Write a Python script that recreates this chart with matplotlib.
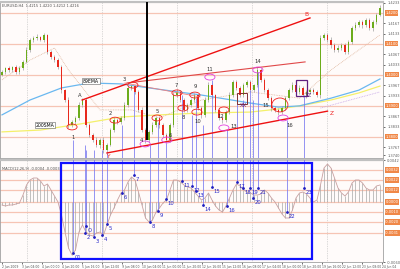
import matplotlib
matplotlib.use("Agg")
import matplotlib.pyplot as plt
from matplotlib.patches import Ellipse, Rectangle
import numpy as np

# price candles (EURUSD H4), one close per bar, open = previous close
closes = [1.4009, 1.4022, 1.4016, 1.4026, 1.4009, 1.4022, 1.4042, 1.4081, 1.4113, 1.4119,
          1.4122, 1.4113, 1.4129, 1.4074, 1.4058, 1.4048, 1.4026, 1.3951, 1.3919, 1.3838,
          1.3848, 1.3861, 1.3903, 1.3919, 1.3838, 1.3806, 1.3790, 1.3774, 1.3790, 1.3757,
          1.3774, 1.3822, 1.3854, 1.3848, 1.3861, 1.3903, 1.3958, 1.3964, 1.3945, 1.3887,
          1.3822, 1.3790, 1.3816, 1.3838, 1.3861, 1.3838, 1.3806, 1.3790, 1.3838, 1.3935,
          1.3945, 1.3919, 1.3887, 1.3903, 1.3919, 1.3935, 1.3893, 1.3871, 1.3919, 1.3967,
          1.3935, 1.3887, 1.3861, 1.3854, 1.3880, 1.3935, 1.3977, 1.3958, 1.3935, 1.3967,
          1.3977, 1.3951, 1.3967, 1.4016, 1.3984, 1.3951, 1.3925, 1.3893, 1.3887, 1.3880,
          1.3893, 1.3925, 1.3951, 1.3967, 1.3945, 1.3958, 1.3935, 1.3945, 1.3951, 1.3945,
          1.3935, 1.4119, 1.4129, 1.4113, 1.4097, 1.4081, 1.4087, 1.4097, 1.4074, 1.4106,
          1.4152, 1.4161, 1.4171, 1.4161, 1.4177, 1.4152, 1.4171, 1.4194, 1.4216]
first_open = 1.4000
# wick lengths in pips
wick_up = [6, 5, 8, 4, 6, 7, 5, 9, 6, 8, 10, 5, 7, 4, 6, 5, 8, 6, 5, 9,
           7, 6, 8, 5, 6, 7, 5, 9, 6, 8, 5, 7, 10, 6, 5, 8, 7, 6, 5, 6,
           8, 5, 7, 9, 6, 5, 8, 6, 7, 9, 8, 6, 5, 7, 6, 8, 5, 7, 9, 10,
           6, 5, 7, 6, 8, 9, 7, 6, 5, 8, 6, 7, 5, 10, 6, 5, 7, 6, 8, 5,
           7, 6, 8, 9, 7, 8, 6, 7, 8, 6, 5, 10, 7, 6, 8, 5, 9, 6, 7, 8,
           6, 9, 5, 7, 6, 8, 5, 7, 9]
wick_dn = [5, 7, 6, 8, 5, 6, 7, 5, 6, 8, 7, 5, 6, 8, 5, 7, 6, 9, 7, 10,
           6, 8, 5, 7, 6, 8, 7, 6, 9, 8, 6, 5, 7, 8, 6, 5, 7, 6, 8, 7,
           6, 9, 8, 7, 6, 8, 7, 9, 6, 7, 5, 8, 6, 7, 8, 5, 6, 9, 7, 6,
           8, 7, 6, 9, 7, 6, 5, 8, 7, 6, 5, 7, 6, 5, 8, 7, 6, 9, 8, 10,
           7, 6, 5, 7, 8, 6, 7, 9, 8, 6, 7, 8, 6, 7, 9, 8, 7, 6, 8, 7,
           6, 7, 5, 8, 6, 7, 9, 6, 5]

# MACD histogram (units of 0.0001)
macd = [-3, -4, -3, -3, -2, -1, 7, 17, 22, 24, 24, 21, 16, 18, 12, 6, 0, -13, -30, -46,
        -53, -48, -30, -23, -30, -33, -34, -31, -30, -33, -23, -13, -6, 2, 9, 12, 20, 25, 22, 10,
        -3, -16, -20, -18, -10, -6, -1, 2, 12, 22, 22, 20, 17, 15, 14, 10, 6, 2, 4, 9,
        2, -4, -8, -10, -4, 4, 12, 18, 16, 12, 10, 9, 7, 7, 8, 12, 9, 4, 0, -6,
        -12, -16, -16, -8, 4, 9, 10, 8, 4, 0, 2, 17, 34, 38, 34, 24, 14, 9, 6, 10,
        19, 22, 22, 19, 14, 12, 12, 16, 17]

# moving averages (bar index, price)
ema_idx = [0, 8, 17, 25, 34, 42, 57, 71, 79, 85, 94, 102, 108]
ema89 = [1.3871, 1.3919, 1.3958, 1.3974, 1.3971, 1.3958, 1.3935, 1.3909, 1.3896, 1.3900, 1.3925, 1.3951, 1.3987]
sma_idx = [0, 11, 22, 34, 45, 57, 71, 79, 85, 94, 102, 108]
sma200 = [1.3816, 1.3822, 1.3841, 1.3864, 1.3871, 1.3877, 1.3880, 1.3890, 1.3900, 1.3919, 1.3942, 1.3964]
fast_idx = [0, 8, 15, 19, 28, 37, 45, 57, 71, 85, 94, 102, 108]
fast_ma = [1.3984, 1.4048, 1.4087, 1.4016, 1.3887, 1.3887, 1.3861, 1.3919, 1.3945, 1.3925, 1.4016, 1.4081, 1.4129]
slow_idx = [91, 108]
slow_ma = [1.3893, 1.3945]

# trend lines ((idx0, price0), (idx1, price1), colour, width)
trend_lines = [((30, 1.3748), (93, 1.3883), "#ee1111", 1.0),
               ((22.9, 1.3919), (88, 1.4184), "#ee1111", 1.0),
               ((35.7, 1.3974), (86.6, 1.4042), "#e04848", 0.8),
               ((35.1, 1.3974), (56.6, 1.3929), "#f08080", 0.6)]

# circled swing points
circle_idx = [20, 32.3, 37.4, 40.9, 44.3, 47.1, 50, 51.7, 55.1, 55.7, 59.4, 63.4, 63.4, 73.1, 79.4, 80.3]
circle_px = [1.3832, 1.3854, 1.3967, 1.3777, 1.3861, 1.3790, 1.3942, 1.3893, 1.3935, 1.3880,
             1.3993, 1.3887, 1.3829, 1.4016, 1.3903, 1.3861]
circle_col = ["r", "r", "r", "m", "r", "m", "r", "r", "r", "r", "m", "r", "m", "m", "r", "m"]

# point labels on price panel
label_txt = ["1", "A", "2", "3", "4", "5", "6", "7", "8", "9", "10", "11", "12", "13",
             "XX", "14", "15", "16", "ZZ"]
label_idx = [20.3, 22.3, 30.9, 34.9, 39.7, 44.3, 48, 49.7, 51.7, 55.1, 56, 59.4, 62.6, 66.3,
             68.9, 73.1, 75.4, 82.3, 87.6]
label_px = [1.3799, 1.3932, 1.3877, 1.3984, 1.3787, 1.3883, 1.3803, 1.3967, 1.3864, 1.3961,
            1.3848, 1.4019, 1.3867, 1.3832, 1.3900, 1.4042, 1.3900, 1.3838, 1.3932]
red_txt = ["B", "Z", "Y"]
red_idx = [87.1, 94.3, 30.3]
red_px = [1.4194, 1.3874, 1.3737]

# links from price events to MACD points
link_txt = ["01", "2", "O", "3", "4", "5", "6", "7", "8", "9", "10", "11", "12", "13",
            "14", "15", "16", "17", "18", "19", "20", "21", "22", "23"]
link_idx = [20.3, 23.7, 24, 26.3, 28.6, 30, 34.3, 37.7, 42.3, 44.6, 46.9, 51.4, 54.3, 55.4,
            57.4, 60, 64.3, 67.1, 68.9, 70.9, 71.7, 73.1, 81.4, 86.3]
link_top = [1.3790, 1.3774, 1.3757, 1.3757, 1.3757, 1.3751, 1.3838, 1.3951, 1.3774, 1.3848,
            1.3780, 1.3935, 1.3871, 1.3925, 1.3838, 1.3984, 1.3822, 1.3919, 1.3919, 1.3951,
            1.3919, 1.4009, 1.3854, 1.3935]
link_macd = [-51, -31, -24, -35, -33, -22, 9, 27, -20, -9, 3, 21, 16, 11, -3, 15, -4, 20,
             14, 14, 4, 14, -10, 14]

price_levels = [1.4200, 1.4100, 1.4000, 1.3900, 1.3800]
price_ticks = [1.4233, 1.4167, 1.4133, 1.4067, 1.4033, 1.3967, 1.3933, 1.3867, 1.3833,
               1.3767, 1.3740]
macd_levels = [32, 22, 12, 0, -10, -20, -31]
day_lines = [7.1, 28.6, 50, 71.4, 92.9]
date_labels = ["2 Jun 2009", "3 Jun 04:00", "4 Jun 00:00", "4 Jun 20:00", "5 Jun 16:00",
               "8 Jun 12:00", "9 Jun 08:00", "10 Jun 04:00", "11 Jun 00:00", "11 Jun 20:00",
               "12 Jun 16:00", "15 Jun 12:00", "16 Jun 08:00", "17 Jun 04:00", "18 Jun 00:00",
               "18 Jun 20:00", "19 Jun 16:00", "22 Jun 12:00", "23 Jun 08:00", "24 Jun 04"]

bg = "#fffbfa"
grid_col = "#f6c4b4"
fig = plt.figure(figsize=(4.0, 2.69), dpi=100, facecolor="white")
ax1 = fig.add_axes([0.0, 111 / 269, 383 / 400, 156 / 269], facecolor=bg)
ax2 = fig.add_axes([0.0, 7 / 269, 383 / 400, 102 / 269], facecolor=bg)

n = len(closes)
x = np.arange(n)
opens = np.array([first_open] + closes[:-1])
cl = np.array(closes)
hi = np.maximum(opens, cl) + np.array(wick_up) * 0.0001
lo = np.minimum(opens, cl) - np.array(wick_dn) * 0.0001

for ax in (ax1, ax2):
    for d in day_lines:
        ax.axvline(d, color="#b8b8b8", lw=0.5, ls=(0, (1, 1.5)), zorder=0)

# price panel
for lv in price_levels:
    ax1.axhline(lv, color=grid_col, lw=0.9, zorder=0)
ax1.plot(sma_idx, sma200, color="#f4f06a", lw=0.9, zorder=2)
ax1.plot(ema_idx, ema89, color="#6ab8f0", lw=0.9, zorder=2)
ax1.plot(fast_idx, fast_ma, color="#e0b8a0", lw=0.6, ls=(0, (1, 1)), zorder=2)
ax1.plot(slow_idx, slow_ma, color="#c8a8e8", lw=0.6, ls=(0, (1, 1)), zorder=2)

up = cl >= opens
cols = np.where(up, "#6cac1c", "#e8281c")
ax1.vlines(x, lo, hi, color="#a0a0a0", lw=0.5, zorder=3)
ax1.bar(x, cl - opens, bottom=opens, width=0.55, color=cols, lw=0, zorder=4)

for t, idx, top in zip(link_txt, link_idx, link_top):
    ax1.vlines(idx, 1.3700, top, color="#7878f0", lw=0.7, alpha=0.8, zorder=3)

for (a, b, c, w) in trend_lines:
    ax1.plot([a[0], b[0]], [a[1], b[1]], color=c, lw=w, zorder=5)

for ci, cp, cc in zip(circle_idx, circle_px, circle_col):
    w, h = (4.6, 0.0045) if (ci == 79.4) else (2.9, 0.0019)
    col = "#ee2020" if cc == "r" else "#e040e0"
    ax1.add_patch(Ellipse((ci, cp), w, h, fill=False, ec=col, lw=0.6, zorder=6))

ax1.add_patch(Rectangle((67.1, 1.3906), 2.9, 0.0036, fill=False, ec="#803030", lw=0.7, zorder=6))
ax1.add_patch(Rectangle((84, 1.3932), 3.1, 0.0052, fill=False, ec="#602080", lw=0.9, zorder=6))

for t, li, lp in zip(label_txt, label_idx, label_px):
    col = "#602080" if t in ("XX", "ZZ") else "#303030"
    ax1.text(li, lp, t, fontsize=3.8, color=col, ha="center", va="center", zorder=7)
for t, li, lp in zip(red_txt, red_idx, red_px):
    ax1.text(li, lp, t, fontsize=4.2, color="#ee2020", ha="center", va="center", zorder=7)

ax1.vlines(41.4, 1.3790, 1.4250, color="black", lw=1.4, zorder=6)

ax1.text(12.3, 1.3838, "200SMA", fontsize=3.3, ha="center", va="center", zorder=7,
         bbox=dict(fc="white", ec="#606060", lw=0.4, pad=0.6))
ax1.text(25.4, 1.3980, "89EMA", fontsize=3.3, ha="center", va="center", zorder=7,
         bbox=dict(fc="white", ec="#606060", lw=0.4, pad=0.6))
ax1.text(0.005, 0.985, "EURUSD,H4  1.4215 1.4220 1.4212 1.4216", transform=ax1.transAxes,
         fontsize=2.6, color="#505050", va="top")

ax1.set_xlim(-0.57, 108.86)
ax1.set_ylim(1.37317, 1.42355)

# MACD panel
for lv in macd_levels:
    ax2.axhline(lv * 0.0001, color=grid_col, lw=0.9, zorder=0)
m = np.array(macd) * 0.0001
ax2.vlines(x, 0, m, color="#a8a8a8", lw=0.5, zorder=2)
ax2.plot(x, m, color="#c8a0a0", lw=0.6, zorder=3)

for t, idx, mv in zip(link_txt, link_idx, link_macd):
    ax2.vlines(idx, mv * 0.0001, 0.0050, color="#7878f0", lw=0.7, alpha=0.8, zorder=3)
    ax2.plot(idx, mv * 0.0001, "o", ms=1.0, color="#2020c0", zorder=5)
    ax2.text(idx + 0.4, mv * 0.0001 - 0.0002, t, fontsize=3.8, color="#2828c8",
             ha="left", va="top", zorder=6)

ax2.add_patch(Rectangle((16.9, -0.0057), 71.7, 0.0096, fill=False, ec="#1010ff", lw=1.6, zorder=7))
ax2.text(0.005, 0.93, "MACD(12,26,9) -0.0004 -0.0003", transform=ax2.transAxes,
         fontsize=2.6, color="#505050", va="top")
ax2.set_xlim(-0.57, 108.86)
ax2.set_ylim(-0.0060, 0.0042)

# right-hand price scales
ax1.yaxis.tick_right()
ax1.set_yticks(price_ticks)
ax1.set_yticklabels([f"{v:.4f}" for v in price_ticks])
ax1.tick_params(axis="y", labelsize=2.6, labelcolor="#606060", length=1.5, width=0.4, pad=1.5)
for lv in price_levels:
    ax1.text(1.006, lv, f"{lv:.4f}", transform=ax1.get_yaxis_transform(), fontsize=2.6,
             color="white", va="center", bbox=dict(fc="#f08848", ec="none", pad=0.4), zorder=8,
             clip_on=False)
ax2.yaxis.tick_right()
ax2.set_yticks([0.0042, -0.0060])
ax2.set_yticklabels(["0.0042", "-0.0060"])
ax2.tick_params(axis="y", labelsize=2.6, labelcolor="#606060", length=1.5, width=0.4, pad=1.5)
for lv in macd_levels:
    ax2.text(1.006, lv * 0.0001, f"{lv * 0.0001:.4f}", transform=ax2.get_yaxis_transform(),
             fontsize=2.6, color="white", va="center", clip_on=False,
             bbox=dict(fc="#f08848", ec="none", pad=0.4), zorder=8)

ax1.set_xticks([])
ax2.set_xticks([i * 20 / 3.5 for i in range(len(date_labels))])
ax2.set_xticklabels(date_labels, ha="left")
ax2.tick_params(axis="x", labelsize=2.2, labelcolor="#505050", length=1.5, width=0.4, pad=0.8)

for ax in (ax1, ax2):
    for s in ax.spines.values():
        s.set_color("#a0a0a0")
        s.set_linewidth(0.6)
    ax.spines["top"].set_linewidth(1.6)
    ax.spines["top"].set_color("#c0c0c0")

fig.savefig("out.png", dpi=100, facecolor="white")
